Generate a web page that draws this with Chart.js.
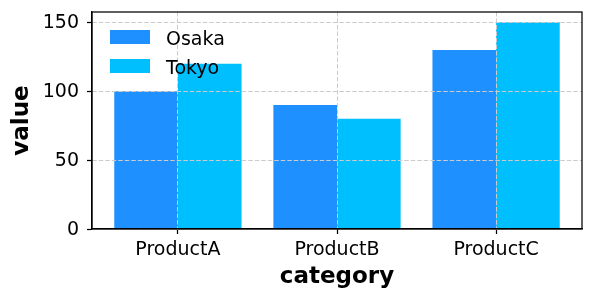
<!DOCTYPE html>
<html>
<head>
<meta charset="utf-8">
<script src="https://cdn.jsdelivr.net/npm/chart.js@4/dist/chart.umd.min.js"></script>
<style>
  html, body { margin: 0; padding: 0; background: #ffffff; }
  #wrap { width: 594px; height: 301px; position: relative; }
</style>
</head>
<body>
<div id="wrap"><canvas id="c"></canvas></div>
<script>
const categories = ['ProductA', 'ProductB', 'ProductC'];
const seriesNames = ['Osaka', 'Tokyo'];
const osaka = [100, 90, 130];
const tokyo = [120, 80, 150];
const yTicks = [0, 50, 100, 150];
const yMax = 157.5;

const FONT = "'DejaVu Sans', 'Liberation Sans', sans-serif";
const GRID = '#cbcbcb';

const framePlugin = {
  id: 'frame',
  afterDraw(chart) {
    const {ctx, chartArea: a} = chart;
    ctx.save();
    ctx.strokeStyle = '#000';
    ctx.lineWidth = 1.25;
    ctx.strokeRect(a.left, a.top, a.right - a.left, a.bottom - a.top);
    ctx.restore();
  }
};

const legendPlugin = {
  id: 'mplLegend',
  afterDraw(chart) {
    const {ctx, chartArea: a} = chart;
    ctx.save();
    ctx.font = '19px ' + FONT;
    ctx.textBaseline = 'alphabetic';
    ctx.textAlign = 'left';
    chart.data.datasets.forEach((ds, i) => {
      const top = a.top + 18 + i * 29;
      ctx.fillStyle = ds.backgroundColor;
      ctx.fillRect(a.left + 18, top, 40, 14);
      ctx.fillStyle = '#000';
      ctx.fillText(ds.label, a.left + 74, top + 15);
    });
    ctx.restore();
  }
};

new Chart(document.getElementById('c'), {
  type: 'bar',
  data: {
    datasets: [
      { label: seriesNames[0], data: osaka.map((v, i) => ({x: i, y: v})), backgroundColor: '#1E90FF', borderWidth: 0 },
      { label: seriesNames[1], data: tokyo.map((v, i) => ({x: i, y: v})), backgroundColor: '#00BFFF', borderWidth: 0 }
    ]
  },
  options: {
    responsive: true,
    maintainAspectRatio: false,
    animation: false,
    events: [],
    layout: { padding: { left: 0, right: 12, top: 12, bottom: 0 } },
    datasets: { bar: { categoryPercentage: 0.8, barPercentage: 1.0 } },
    plugins: { legend: { display: false }, tooltip: { enabled: false } },
    scales: {
      x: {
        type: 'linear',
        min: -0.54,
        max: 2.54,
        offset: false,
        afterBuildTicks(scale) { scale.ticks = categories.map((_, i) => ({ value: i })); },
        afterFit(scale) { scale.height = 72; scale.paddingLeft = 0; scale.paddingRight = 0; },
        grid: {
          display: true, offset: false, z: 1,
          color: GRID, lineWidth: 1,
          drawTicks: true, tickLength: 5, tickColor: '#000', tickWidth: 1.25, tickBorderDash: []
        },
        border: { display: true, color: '#000', width: 1.25, dash: [4.5, 2], z: 1 },
        ticks: {
          autoSkip: false, maxRotation: 0, minRotation: 0, padding: 5,
          color: '#000', font: { family: FONT, size: 19 },
          callback: (v) => categories[v]
        },
        title: {
          display: true, text: 'category', color: '#000',
          font: { family: FONT, size: 23, weight: 'bold' },
          padding: { top: 0, bottom: 10 }
        }
      },
      y: {
        type: 'linear',
        min: 0,
        max: yMax,
        afterBuildTicks(scale) { scale.ticks = yTicks.map(v => ({ value: v })); },
        afterFit(scale) { scale.width = 92; scale.paddingTop = 0; scale.paddingBottom = 0; },
        grid: {
          display: true, z: 1,
          color: GRID, lineWidth: 1,
          drawTicks: true, tickLength: 5, tickColor: '#000', tickWidth: 1.25, tickBorderDash: []
        },
        border: { display: true, color: '#000', width: 1.25, dash: [4.5, 2], z: 1 },
        ticks: {
          padding: 8, labelOffset: 1, color: '#000', font: { family: FONT, size: 19 }
        },
        title: {
          display: true, text: 'value', color: '#000',
          font: { family: FONT, size: 23, weight: 'bold' },
          padding: { top: 8, bottom: 0 }
        }
      }
    }
  },
  plugins: [framePlugin, legendPlugin]
});
</script>
</body>
</html>
